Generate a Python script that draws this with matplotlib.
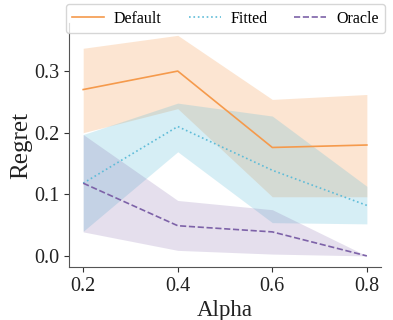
import numpy as np
import matplotlib
matplotlib.use("Agg")
import matplotlib.pyplot as plt

plt.rcParams['font.family'] = ['Liberation Serif', 'DejaVu Serif']
plt.rcParams['mathtext.fontset'] = 'dejavuserif'

alpha_vals = [0.2, 0.4, 0.6, 0.8]

default_mean = [0.270, 0.300, 0.176, 0.180]
default_lo = [0.200, 0.239, 0.096, 0.096]
default_hi = [0.337, 0.358, 0.254, 0.262]

fitted_mean = [0.118, 0.210, 0.139, 0.082]
fitted_lo = [0.040, 0.169, 0.054, 0.052]
fitted_hi = [0.197, 0.248, 0.227, 0.113]

oracle_mean = [0.118, 0.049, 0.039, 0.000]
oracle_lo = [0.039, 0.009, 0.003, 0.000]
oracle_hi = [0.197, 0.090, 0.075, 0.000]

c_default = '#f59a4c'
c_fitted = '#5fbcd8'
c_oracle = '#7d62a8'

fig = plt.figure(figsize=(3.93, 3.2), dpi=100)
ax = fig.add_axes([0.1756, 0.1656, 0.794, 0.7625])

ax.fill_between(alpha_vals, default_lo, default_hi, color=c_default, alpha=0.25, lw=0)
ax.plot(alpha_vals, default_mean, '-', color=c_default, lw=1.2, label='Default')
ax.fill_between(alpha_vals, fitted_lo, fitted_hi, color=c_fitted, alpha=0.25, lw=0)
ax.plot(alpha_vals, fitted_mean, ':', color=c_fitted, lw=1.2, label='Fitted')
ax.fill_between(alpha_vals, oracle_lo, oracle_hi, color=c_oracle, alpha=0.2, lw=0)
ax.plot(alpha_vals, oracle_mean, '--', color=c_oracle, lw=1.2, label='Oracle')

ax.set_xlim(0.17, 0.83)
ax.set_ylim(-0.018, 0.378)
ax.set_xticks([0.2, 0.4, 0.6, 0.8])
ax.set_yticks([0.0, 0.1, 0.2, 0.3])
ax.xaxis.set_major_formatter(matplotlib.ticker.FormatStrFormatter('%.1f'))
ax.yaxis.set_major_formatter(matplotlib.ticker.FormatStrFormatter('%.1f'))
ax.tick_params(labelsize=14.5, colors='#333333', labelcolor='#222222')

for s in ['top', 'right']:
    ax.spines[s].set_visible(False)
for s in ['left', 'bottom']:
    ax.spines[s].set_color('#555555')

ax.set_xlabel('Alpha', fontsize=16.5, color='#222222', labelpad=3)
ax.set_ylabel('Regret', fontsize=18, color='#222222')
ax.yaxis.set_label_coords(-0.118, 0.5)

ax.legend(loc='lower left', bbox_to_anchor=(-0.01, 0.959, 1.022, 0.11), mode='expand',
          ncol=3, borderaxespad=0, fontsize=11.5, handlelength=2.0,
          handletextpad=0.6, frameon=True)

fig.savefig('out.png', dpi=100)
